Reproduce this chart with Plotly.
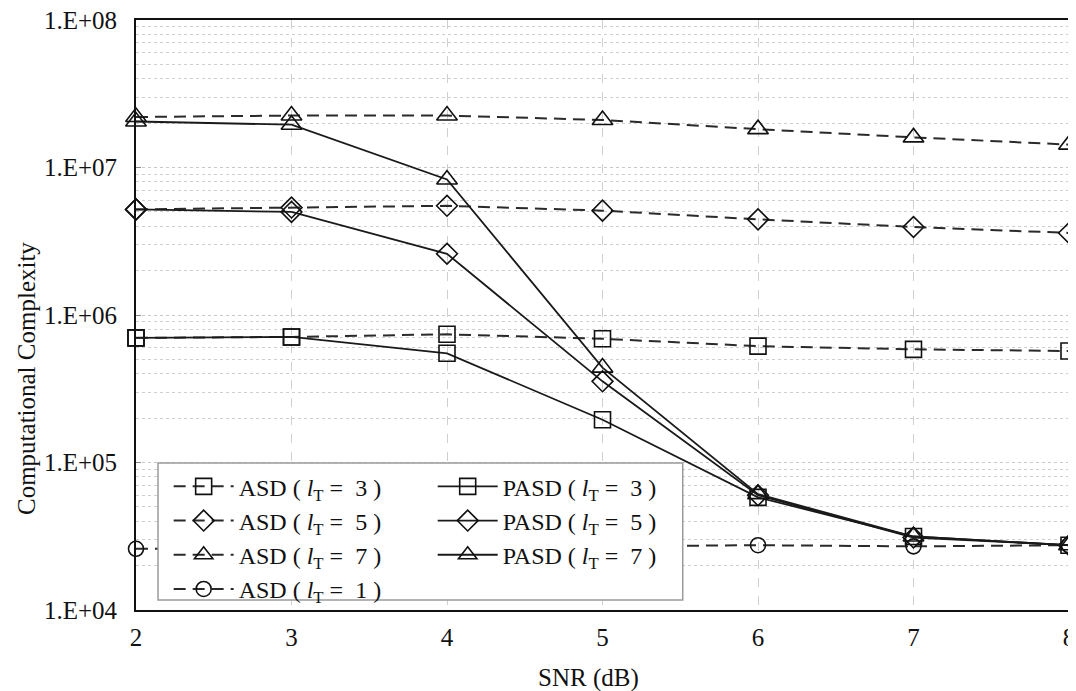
import plotly.graph_objects as go

snr = [2, 3, 4, 5, 6, 7, 8]
asd_l3 = [7.0e5, 7.1e5, 7.4e5, 6.9e5, 6.15e5, 5.85e5, 5.7e5]
asd_l5 = [5.2e6, 5.35e6, 5.5e6, 5.1e6, 4.45e6, 3.95e6, 3.6e6]
asd_l7 = [2.2e7, 2.25e7, 2.25e7, 2.1e7, 1.82e7, 1.6e7, 1.43e7]
asd_l1 = [2.6e4, 2.65e4, 2.7e4, 2.7e4, 2.75e4, 2.7e4, 2.75e4]
pasd_l3 = [7.0e5, 7.1e5, 5.5e5, 1.95e5, 5.8e4, 3.15e4, 2.75e4]
pasd_l5 = [5.2e6, 5.0e6, 2.6e6, 3.55e5, 6.0e4, 3.1e4, 2.75e4]
pasd_l7 = [2.05e7, 1.95e7, 8.3e6, 4.4e5, 6.1e4, 3.15e4, 2.75e4]

ytick_vals = [1e4, 1e5, 1e6, 1e7, 1e8]
ytick_text = ["1.E+04", "1.E+05", "1.E+06", "1.E+07", "1.E+08"]

FONT = "Liberation Serif, Times New Roman, serif"

def lbl(name, n):
    return f"{name} ( <i>l</i><sub>T</sub> =  {n} )"

fig = go.Figure()

asd_series = [(asd_l3, "square-open", 3, 16), (asd_l5, "diamond-open", 5, 16),
              (asd_l7, "triangle-up-open", 7, 18), (asd_l1, "circle-open", 1, 15)]
for vals, sym, n, sz in asd_series:
    fig.add_trace(go.Scatter(
        x=snr, y=vals, mode="lines+markers", name=lbl("ASD", n),
        line=dict(color="#2a2a2a", width=2, dash="12px,7px"),
        marker=dict(symbol=sym, size=sz, color="#111", line=dict(width=1.6, color="#111")),
        cliponaxis=False, legend="legend"))

pasd_series = [(pasd_l3, "square-open", 3, 16), (pasd_l5, "diamond-open", 5, 16),
               (pasd_l7, "triangle-up-open", 7, 18)]
for vals, sym, n, sz in pasd_series:
    fig.add_trace(go.Scatter(
        x=snr, y=vals, mode="lines+markers", name=lbl("PASD", n),
        line=dict(color="#1a1a1a", width=1.8),
        marker=dict(symbol=sym, size=sz, color="#111", line=dict(width=1.6, color="#111")),
        cliponaxis=False, legend="legend2"))

# legend frame (both legend columns share one box, as in the reference)
fig.add_shape(type="rect", xref="paper", yref="paper",
              x0=0.0236, x1=0.586, y0=0.0170, y1=0.249,
              fillcolor="white", line=dict(color="#9a9a9a", width=1.5), layer="above")

legend_common = dict(bgcolor="rgba(0,0,0,0)", borderwidth=0, orientation="v",
                     font=dict(family=FONT, size=24, color="#111"),
                     xanchor="left", yanchor="top", itemwidth=60,
                     tracegroupgap=0, traceorder="normal")

fig.add_annotation(text="Computational Complexity", xref="paper", yref="paper",
                   x=-0.118, y=0.393, xanchor="center", yanchor="middle",
                   textangle=-90, showarrow=False,
                   font=dict(family=FONT, size=25, color="#111"))
fig.add_annotation(text="SNR (dB)", xref="paper", yref="paper",
                   x=0.4845, y=-0.115, xanchor="center", yanchor="middle",
                   showarrow=False, font=dict(family=FONT, size=25, color="#111"))

fig.update_layout(
    width=1068, height=683,
    margin=dict(l=128, r=7, t=12, b=81),
    paper_bgcolor="white", plot_bgcolor="white",
    font=dict(family=FONT, size=24, color="#111"),
    legend=dict(x=0.035, y=0.247, **legend_common),
    legend2=dict(x=0.318, y=0.247, **legend_common),
    xaxis=dict(
        range=[2, 8], tickvals=snr, ticks="", showline=True, linecolor="#111",
        linewidth=2, mirror=True, showgrid=True, gridcolor="#cfcfcf", griddash="dash",
        gridwidth=1, zeroline=False, tickfont=dict(size=25), automargin=False,
        ticklabeloverflow="allow", ticklabelstandoff=4),
    yaxis=dict(
        type="log", range=[4, 8], tickvals=ytick_vals, ticktext=ytick_text,
        ticks="inside", ticklen=5, tickcolor="#888",
        showline=True, linecolor="#111", linewidth=2, mirror=True,
        showgrid=True, gridcolor="#c8c8c8", griddash="dot", gridwidth=1,
        minor=dict(dtick="D1", showgrid=True, gridcolor="#cfcfcf", griddash="dot",
                   gridwidth=1, ticks=""),
        zeroline=False, tickfont=dict(size=25), automargin=False,
        ticklabeloverflow="allow", ticklabelstandoff=12),
)

fig.write_html("out.html")
